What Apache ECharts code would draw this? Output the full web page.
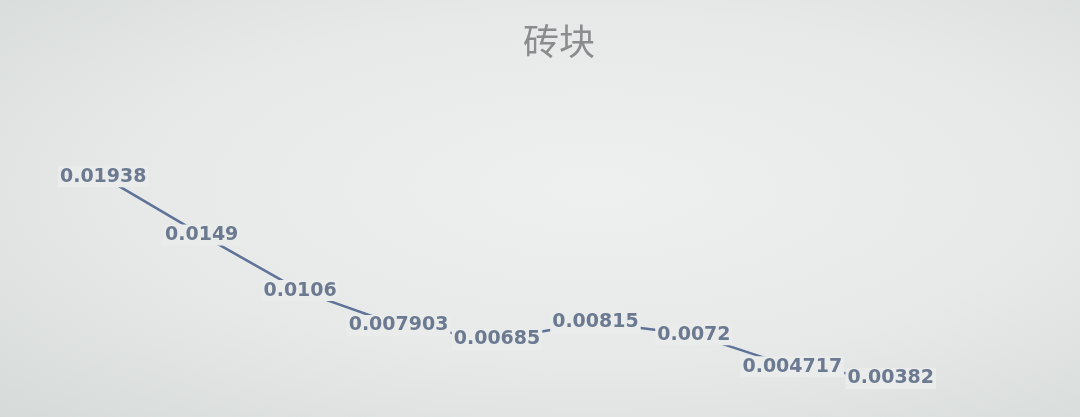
<!DOCTYPE html>
<html>
<head>
<meta charset="utf-8">
<script src="https://cdn.jsdelivr.net/npm/echarts@6/dist/echarts.min.js"></script>
<style>
  html, body { margin: 0; padding: 0; }
  body {
    width: 1080px; height: 417px; overflow: hidden;
    background: radial-gradient(ellipse at 55% 45%, #eef0ef 0%, #e6e9e8 55%, #d6dad9 100%);
  }
  #chart { width: 1080px; height: 417px; }
</style>
</head>
<body>
<div id="chart"></div>
<script>
// 数据
var categories = ['1', '2', '3', '4', '5', '6', '7', '8', '9'];
var values = [0.01938, 0.0149, 0.0106, 0.007903, 0.00685, 0.00815, 0.0072, 0.004717, 0.00382];
var labelTexts = ['0.01938', '0.0149', '0.0106', '0.007903', '0.00685', '0.00815', '0.0072', '0.004717', '0.00382'];

var myChart = echarts.init(document.getElementById('chart'));
myChart.setOption({
    backgroundColor: 'transparent',
    title: {
        text: '砖块',
        left: 554,
        top: 18,
        textAlign: 'center',
        textStyle: {
            fontFamily: 'Noto Sans CJK SC',
            fontSize: 36,
            fontWeight: 'normal',
            color: '#8a8c8d'
        }
    },
    grid: { left: 54, right: 140, top: 104, bottom: 2 },
    xAxis: {
        type: 'category',
        data: categories,
        show: false
    },
    yAxis: {
        type: 'value',
        min: 0.001,
        max: 0.025,
        show: false
    },
    series: [{
        type: 'line',
        data: values,
        symbol: 'circle',
        symbolSize: 1,
        showAllSymbol: true,
        itemStyle: { color: '#5f7399' },
        lineStyle: { color: '#5f7399', width: 2.5 },
        label: {
            show: true,
            position: 'inside',
            formatter: function (p) { return labelTexts[p.dataIndex]; },
            fontFamily: 'DejaVu Sans',
            fontWeight: 'bold',
            fontSize: 19,
            color: '#6c7a91',
            backgroundColor: '#e9eceb',
            padding: [1, 2]
        }
    }]
});
</script>
</body>
</html>
